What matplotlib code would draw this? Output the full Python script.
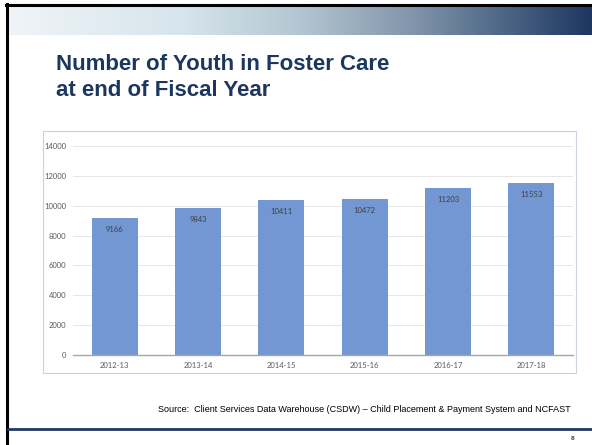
import matplotlib
matplotlib.use("Agg")
import matplotlib.pyplot as plt
import numpy as np
from matplotlib.colors import LinearSegmentedColormap
from matplotlib.patches import Rectangle
from matplotlib.lines import Line2D

categories = ["2012-13", "2013-14", "2014-15", "2015-16", "2016-17", "2017-18"]
values = [9166, 9843, 10411, 10472, 11203, 11553]
yticks = [0, 2000, 4000, 6000, 8000, 10000, 12000, 14000]

W, H = 592, 445
fig = plt.figure(figsize=(W / 100, H / 100), dpi=100)
fig.patch.set_facecolor("white")

def fx(x):
    return x / W

def fy(y):
    return 1 - y / H

# header gradient band
gax = fig.add_axes([fx(8), fy(35), fx(592 - 8), (35 - 6) / H])
cmap = LinearSegmentedColormap.from_list(
    "hdr", [(0, "#f0f4f8"), (0.3, "#d6e5ec"), (0.5, "#b4c6d2"), (0.7, "#7f94aa"), (1, "#1d3761")])
gax.imshow(np.linspace(0, 1, 256)[None, :], aspect="auto", cmap=cmap, extent=[0, 1, 0, 1])
gax.set_axis_off()

# slide borders
fig.add_artist(Line2D([fx(7), fx(7)], [fy(4), fy(445)], color="black", lw=2.2))
fig.add_artist(Line2D([fx(6), fx(592)], [fy(5), fy(5)], color="black", lw=2.2))
fig.add_artist(Line2D([fx(8), fx(592)], [fy(429), fy(429)], color="#1f3864", lw=2.0))

# title
title_font = dict(family="Liberation Sans", weight="bold", size=16, color="#1c375f")
fig.text(fx(56), fy(70), "Number of Youth in Foster Care", va="baseline", ha="left", **title_font)
fig.text(fx(56), fy(96), "at end of Fiscal Year", va="baseline", ha="left", **title_font)

# chart frame
fig.add_artist(Rectangle((fx(43), fy(373)), fx(576 - 43), (373 - 131) / H,
                         transform=fig.transFigure, fill=False, edgecolor="#c9d2e3", lw=0.8))

# plot
ax = fig.add_axes([fx(73), fy(355), fx(500), (355 - 146) / H])
x = np.arange(len(categories))
ax.bar(x, values, width=0.55, color="#7397d3", zorder=2)
ax.set_xlim(-0.5, len(categories) - 0.5)
ax.set_ylim(0, 14000)
ax.set_yticks(yticks)
ax.set_yticklabels([str(v) for v in yticks])
ax.set_xticks(x)
ax.set_xticklabels(categories)
ax.grid(axis="y", color="#e6e6e6", lw=0.7, zorder=0)
for s in ["top", "right", "left"]:
    ax.spines[s].set_visible(False)
ax.spines["bottom"].set_color("#a6a6a6")
ax.spines["bottom"].set_linewidth(1.0)
ax.tick_params(axis="both", length=0, labelsize=5.5, labelcolor="#595959")
ax.tick_params(axis="y", pad=5)
ax.tick_params(axis="x", pad=5)
for lbl in ax.get_xticklabels() + ax.get_yticklabels():
    lbl.set_family("Lato")
for xi, v in zip(x, values):
    ax.annotate(str(v), (xi, v), xytext=(0, -8.5), textcoords="offset points",
                ha="center", va="center", fontsize=5.5, color="#404040", family="Lato")

# source
fig.text(fx(571), fy(409), "Source:  Client Services Data Warehouse (CSDW) \u2013 Child Placement & Payment System and NCFAST",
         ha="right", va="center", fontsize=6.5, family="Liberation Sans", color="#000000")
fig.text(fx(574), fy(438), "8", ha="right", va="center", fontsize=4.5, family="Liberation Sans",
         weight="bold", color="#1f3864")

fig.savefig("out.png", dpi=100)
